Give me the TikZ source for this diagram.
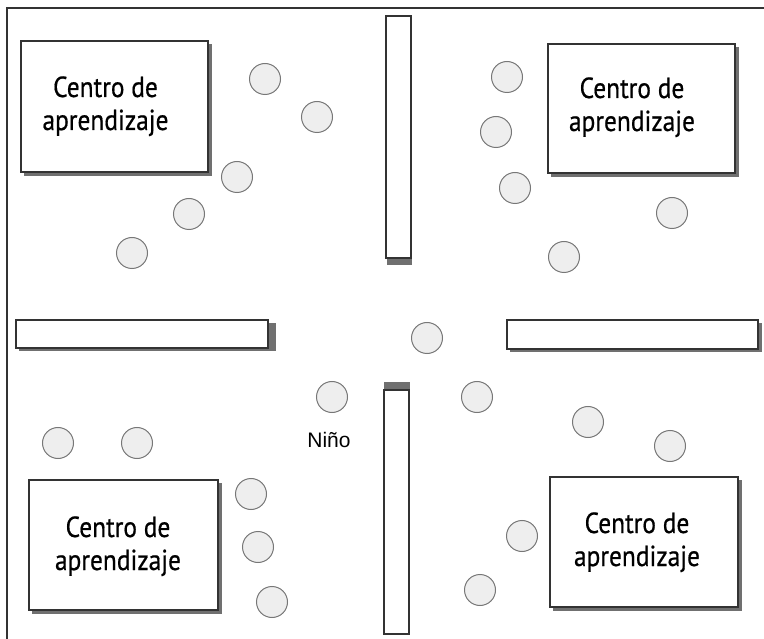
\documentclass[tikz,border=0pt]{standalone}
\usepackage{fontspec}
\setmainfont{Liberation Sans}
\newfontfamily\boxfont[FakeBold=0.6]{PT Sans}
\definecolor{inkc}{HTML}{333333}
\definecolor{shadc}{HTML}{707070}
\definecolor{seatfill}{HTML}{EEEEEE}
\definecolor{seatline}{HTML}{777777}
\newcommand\ctext{\resizebox{126pt}{\height}{\fontsize{29}{33}\selectfont\boxfont\begin{tabular}[t]{@{}c@{}}Centro de\\aprendizaje\end{tabular}}}
\tikzset{
  frameline/.style={draw=inkc, line width=2pt},
  roombox/.style={draw=inkc, fill=white, line width=1.2pt},
  wallbox/.style={draw=inkc, fill=white, line width=1.2pt},
  shadowfill/.style={fill=shadc},
  seat/.style={circle, draw=seatline, fill=seatfill, line width=1pt, minimum size=31pt, inner sep=0pt},
  lbl/.style={anchor=base, inner sep=0pt, text=black},
  kidlbl/.style={font=\fontsize{21}{24}\selectfont, inner sep=0pt, anchor=base, text=black}
}
\begin{document}
\begin{tikzpicture}[x=1pt,y=-1pt]
\useasboundingbox (0,0) rectangle (764,639);
% frame
\draw[frameline] (764,8) -- (7,8) -- (7,639);
% learning centres with shadows
\fill[shadowfill] (24,44) rectangle (212,176);
\draw[roombox] (21,41) rectangle (208,172);
\fill[shadowfill] (551,47) rectangle (739,177);
\draw[roombox] (548,44) rectangle (735,173);
\fill[shadowfill] (32,483) rectangle (222,614);
\draw[roombox] (29,480) rectangle (218,610);
\fill[shadowfill] (553,480) rectangle (742,611);
\draw[roombox] (550,477) rectangle (738,607);
\node[lbl] (ctl) at (105.5,97) {\ctext};
\node[lbl] (ctr) at (632,98) {\ctext};
\node[lbl] (cbl) at (118,537) {\ctext};
\node[lbl] (cbr) at (637,533) {\ctext};
% walls
\fill[shadowfill] (387,255) rectangle (412,265);
\draw[wallbox] (386,16) rectangle (411,258);
\fill[shadowfill] (384,382) rectangle (410,392);
\draw[wallbox] (384,390) rectangle (409,634);
\fill[shadowfill] (19,323) rectangle (276,351);
\draw[wallbox] (16,320) rectangle (268,348);
\fill[shadowfill] (510,323) rectangle (762,352);
\draw[wallbox] (507,320) rectangle (758,349);
% seats top-left
\node[seat] (s1) at (265,79) {};
\node[seat] (s2) at (317,117) {};
\node[seat] (s3) at (237,177) {};
\node[seat] (s4) at (189,214) {};
\node[seat] (s5) at (132,253) {};
% seats top-right
\node[seat] (s6) at (507,77) {};
\node[seat] (s7) at (496,132) {};
\node[seat] (s8) at (515,188) {};
\node[seat] (s9) at (672,213) {};
\node[seat] (s10) at (564,257) {};
% seats middle
\node[seat] (s11) at (427,338) {};
\node[seat] (kid) at (332,397) {};
\node[seat] (s13) at (477,397) {};
% seats bottom-right
\node[seat] (s14) at (588,422) {};
\node[seat] (s15) at (670,446) {};
\node[seat] (s16) at (522,536) {};
\node[seat] (s17) at (480,590) {};
% seats bottom-left
\node[seat] (s18) at (58,443) {};
\node[seat] (s19) at (137,443) {};
\node[seat] (s20) at (251,494) {};
\node[seat] (s21) at (258,547) {};
\node[seat] (s22) at (272,602) {};
% label
\node[kidlbl] (nino) at (329,447) {Niño};
\end{tikzpicture}
\end{document}
